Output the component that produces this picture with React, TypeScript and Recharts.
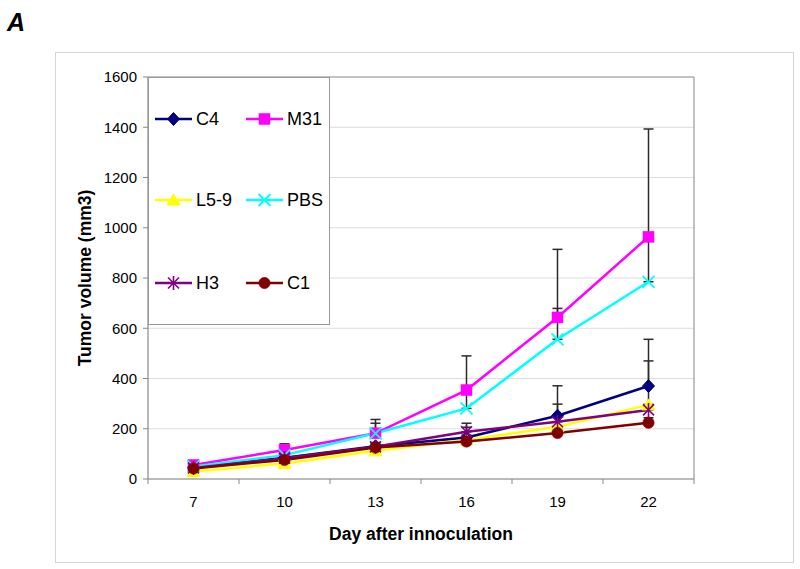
import React from 'react';
import { LineChart, Line, XAxis, YAxis, CartesianGrid, ErrorBar, Legend, ReferenceLine } from 'recharts';

const days = [7, 10, 13, 16, 19, 22];

const c4Values = [46, 85, 130, 165, 252, 370];
const c4Err = [5, 10, 15, 57, 119, 186];
const m31Values = [56, 115, 182, 354, 643, 964];
const m31Err = [5, 25, 55, 136, 271, 429];
const l59Values = [30, 62, 112, 155, 208, 295];
const l59Err = [5, 8, 10, 20, 90, 175];
const pbsValues = [50, 95, 182, 281, 556, 785];
const pbsErr = [5, 15, 40, 70, 123, 185];
const h3Values = [44, 83, 128, 188, 228, 275];
const h3Err = [4, 8, 12, 18, 20, 22];
const c1Values = [42, 76, 125, 149, 183, 224];
const c1Err = [3, 6, 8, 12, 15, 20];

const yTicks = [0, 200, 400, 600, 800, 1000, 1200, 1400, 1600];
const xBoundaries = [5.5, 8.5, 11.5, 14.5, 17.5, 20.5, 23.5];

type Shape = 'diamond' | 'square' | 'triangle' | 'x' | 'star' | 'circle';

const series: { key: string; name: string; color: string; shape: Shape; values: number[]; err: number[] }[] = [
  { key: 'c4', name: 'C4', color: '#000080', shape: 'diamond', values: c4Values, err: c4Err },
  { key: 'm31', name: 'M31', color: '#FF00FF', shape: 'square', values: m31Values, err: m31Err },
  { key: 'l59', name: 'L5-9', color: '#FFFF00', shape: 'triangle', values: l59Values, err: l59Err },
  { key: 'pbs', name: 'PBS', color: '#00FFFF', shape: 'x', values: pbsValues, err: pbsErr },
  { key: 'h3', name: 'H3', color: '#800080', shape: 'star', values: h3Values, err: h3Err },
  { key: 'c1', name: 'C1', color: '#800000', shape: 'circle', values: c1Values, err: c1Err },
];

const data = days.map((d, i) => {
  const row: Record<string, any> = { day: d };
  series.forEach((s) => {
    row[s.key] = s.values[i];
    row[s.key + 'Err'] = [0, s.err[i]];
  });
  return row;
});

const FONT = '"Liberation Sans", Arial, Helvetica, sans-serif';
const AXIS = '#888888';
const BORDER = '#999999';

function Marker({ shape, cx, cy, color }: { shape: Shape; cx: number; cy: number; color: string }) {
  switch (shape) {
    case 'diamond':
      return <polygon points={`${cx},${cy - 6.5} ${cx + 6},${cy} ${cx},${cy + 6.5} ${cx - 6},${cy}`} fill={color} stroke={color} strokeWidth={1} />;
    case 'square':
      return <rect x={cx - 5.5} y={cy - 5.5} width={11} height={11} fill={color} stroke={color} strokeWidth={0.5} />;
    case 'triangle':
      return <polygon points={`${cx},${cy - 6} ${cx + 6.5},${cy + 5} ${cx - 6.5},${cy + 5}`} fill={color} stroke={color} strokeWidth={1} />;
    case 'x':
      return (
        <g stroke={color} strokeWidth={1.8}>
          <line x1={cx - 6} y1={cy - 6} x2={cx + 6} y2={cy + 6} />
          <line x1={cx - 6} y1={cy + 6} x2={cx + 6} y2={cy - 6} />
        </g>
      );
    case 'star':
      return (
        <g stroke={color} strokeWidth={1.6}>
          <line x1={cx - 5.5} y1={cy - 5.5} x2={cx + 5.5} y2={cy + 5.5} />
          <line x1={cx - 5.5} y1={cy + 5.5} x2={cx + 5.5} y2={cy - 5.5} />
          <line x1={cx} y1={cy - 7} x2={cx} y2={cy + 7} />
        </g>
      );
    case 'circle':
    default:
      return <circle cx={cx} cy={cy} r={5.7} fill={color} stroke={color} strokeWidth={0.5} />;
  }
}

const rowCenters = [42, 123, 206];

function LegendBox() {
  return (
    <div
      style={{
        position: 'relative',
        width: 180,
        height: 246,
        border: `1px solid ${BORDER}`,
        background: '#fff',
        fontFamily: FONT,
      }}
    >
      {series.map((s, i) => {
        const row = Math.floor(i / 2);
        const col = i % 2;
        return (
          <div
            key={s.key}
            style={{
              position: 'absolute',
              left: 6 + col * 91,
              top: rowCenters[row] - 9 - 1,
              height: 18,
              display: 'flex',
              alignItems: 'center',
            }}
          >
            <svg width={38} height={18} style={{ display: 'block' }}>
              <line x1={0} y1={9} x2={37} y2={9} stroke={s.color} strokeWidth={2.5} />
              <Marker shape={s.shape} cx={18.5} cy={9} color={s.color} />
            </svg>
            <span style={{ marginLeft: 3, fontSize: 18, lineHeight: '18px', color: '#000' }}>{s.name}</span>
          </div>
        );
      })}
    </div>
  );
}

export default function App() {
  return (
    <div style={{ position: 'absolute', left: 0, top: 0, width: 800, height: 569, background: '#fff', fontFamily: FONT }}>
      <div
        style={{
          position: 'absolute',
          left: 7,
          top: 8,
          fontSize: 25,
          fontWeight: 'bold',
          fontStyle: 'italic',
          lineHeight: '28px',
          color: '#000',
        }}
      >
        A
      </div>
      <div
        style={{
          position: 'absolute',
          left: 55,
          top: 52,
          width: 737,
          height: 509,
          border: '1px solid #d6d6d6',
        }}
      />
      <div style={{ position: 'absolute', left: 0, top: 0 }}>
        <LineChart width={800} height={569} data={data} margin={{ top: 0, right: 0, bottom: 0, left: 0 }}>
          <CartesianGrid horizontal vertical={false} stroke="#dcdcdc" strokeWidth={1} />
          <XAxis
            xAxisId="top"
            orientation="top"
            type="number"
            dataKey="day"
            domain={[5.5, 23.5]}
            height={77}
            tick={false}
            tickLine={false}
            axisLine={{ stroke: BORDER, strokeWidth: 1.2 }}
          />
          <XAxis
            type="number"
            dataKey="day"
            domain={[5.5, 23.5]}
            ticks={days}
            height={90}
            tickLine={false}
            tickSize={5}
            tickMargin={12}
            axisLine={{ stroke: AXIS, strokeWidth: 1.2 }}
            tick={{ fill: '#000', fontSize: 15, fontFamily: FONT }}
            label={{
              value: 'Day after innoculation',
              position: 'insideBottom',
              offset: 29,
              style: { fill: '#000', fontSize: 17.5, fontWeight: 'bold', fontFamily: FONT },
            }}
          />
          <YAxis
            type="number"
            domain={[0, 1600]}
            ticks={yTicks}
            width={148}
            tickSize={5}
            tickMargin={6}
            interval={0}
            axisLine={{ stroke: AXIS, strokeWidth: 1.2 }}
            tickLine={{ stroke: AXIS }}
            tick={{ fill: '#000', fontSize: 15, fontFamily: FONT }}
            label={{
              value: 'Tumor volume (mm3)',
              angle: -90,
              position: 'insideLeft',
              offset: 85,
              style: { textAnchor: 'middle', fill: '#000', fontSize: 17.5, fontWeight: 'bold', fontFamily: FONT },
            }}
          />
          <YAxis
            yAxisId="right"
            orientation="right"
            type="number"
            domain={[0, 1600]}
            width={106}
            tick={false}
            tickLine={false}
            axisLine={{ stroke: BORDER, strokeWidth: 1.2 }}
          />
          {xBoundaries.map((b) => (
            <ReferenceLine
              key={'b' + b}
              segment={[
                { x: b, y: 0 },
                { x: b, y: -20 },
              ]}
              ifOverflow="visible"
              stroke={AXIS}
              strokeWidth={1}
            />
          ))}
          {series.map((s) => (
            <Line
              key={s.key + '-err'}
              dataKey={s.key}
              stroke="none"
              dot={false}
              activeDot={false}
              legendType="none"
              isAnimationActive={false}
            >
              <ErrorBar dataKey={s.key + 'Err'} direction="y" width={5} stroke="#2b2b2b" strokeWidth={1.5} isAnimationActive={false} />
            </Line>
          ))}
          {series.map((s) => (
            <Line
              key={s.key}
              dataKey={s.key}
              name={s.name}
              type="linear"
              stroke={s.color}
              strokeWidth={2.5}
              isAnimationActive={false}
              activeDot={false}
              dot={(p: any) => (
                <Marker key={`${s.key}-${p.index}`} shape={s.shape} cx={p.cx} cy={p.cy} color={s.color} />
              )}
            />
          ))}
          <Legend
            layout="vertical"
            align="center"
            verticalAlign="middle"
            content={() => <LegendBox />}
            wrapperStyle={{ position: 'absolute', left: 148, top: 77, width: 182, height: 248 }}
          />
        </LineChart>
      </div>
    </div>
  );
}
